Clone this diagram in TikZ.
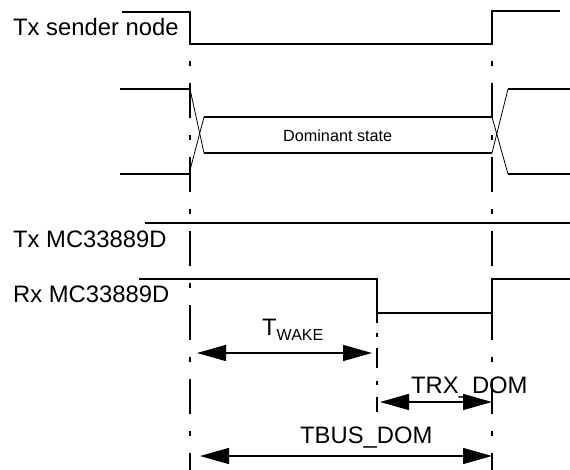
\documentclass[tikz,border=0pt]{standalone}
\usepackage{fontspec}
\setmainfont{Liberation Sans}
\usetikzlibrary{arrows.meta}
\begin{document}
\begin{tikzpicture}[x=1pt,y=-1pt,
  sig/.style={line width=1.4pt},
  slant/.style={line width=0.8pt},
  marker/.style={line width=1.4pt, dash pattern=on 35pt off 17pt on 5pt off 17pt, dash phase=35pt},
  dimarrow/.style={line width=1.4pt, {Triangle[length=29pt,width=16pt]}-{Triangle[length=29pt,width=16pt]}},
  lbl/.style={inner sep=0pt, anchor=base west, font=\fontsize{23.8}{23.8}\selectfont},
  small/.style={inner sep=0pt, anchor=base west, font=\fontsize{16.2}{16.2}\selectfont}]
\useasboundingbox (0,0) rectangle (570,470);

% time markers
\coordinate (t0) at (190,44);
\coordinate (t0e) at (190,470);
\coordinate (t2) at (492,44);
\coordinate (t2e) at (492,470);
\coordinate (t1) at (377,313);
\coordinate (t1e) at (377,412);

% Tx sender node
\draw[sig] (122,12) -- (190,12) -- (t0) -- (t2) -- (492,11) -- (560,11);
\draw[marker] (t0) -- (t0e);
\draw[marker] (t2) -- (t2e);

% bus
\draw[sig] (120,89) -- (190,89);
\draw[slant] (190,89) -- (204,153);
\draw[sig] (120,174) -- (189,174);
\draw[slant] (189,174) -- (204,117);
\draw[sig] (204,117) -- (492,117);
\draw[sig] (204,153) -- (492,153);
\draw[slant] (492,117) -- (508,174);
\draw[slant] (492,153) -- (508,89);
\draw[sig] (508,89) -- (570,89);
\draw[sig] (508,174) -- (570,174);
\node[small] (dom) at (283,141.7) {Dominant state};

% Tx MC33889D
\draw[sig] (145,223) -- (570,223);

% Rx MC33889D
\draw[sig] (139,279) -- (377,279) -- (t1) -- (492,313) -- (492,279) -- (570,279);
\draw[line width=1.4pt, dash pattern=on 10pt off 10pt on 4pt off 11pt on 20pt off 13pt on 4pt off 12pt on 15pt off 10pt] (t1) -- (t1e);

% labels
\node[lbl] (txs) at (13,36) {Tx sender node};
\node[lbl] (txm) at (13,248) {Tx MC33889D};
\node[lbl] (rxm) at (13,302) {Rx MC33889D};

% dimension arrows
\coordinate (w1) at (197,353);
\coordinate (w2) at (372,353);
\coordinate (r1) at (380,402);
\coordinate (r2) at (492,402);
\coordinate (b1) at (200,456);
\coordinate (b2) at (492,456);
\draw[dimarrow] (w1) -- (w2);
\draw[dimarrow] (r1) -- (r2);
\draw[dimarrow] (b1) -- (b2);

\node[lbl] (twake) at (262,335) {T\raisebox{-5pt}{\fontsize{16}{16}\selectfont WAKE}};
\node[lbl] (trx) at (411,393) {TRX\_DOM};
\node[lbl] (tbus) at (300,443) {TBUS\_DOM};
\end{tikzpicture}
\end{document}
